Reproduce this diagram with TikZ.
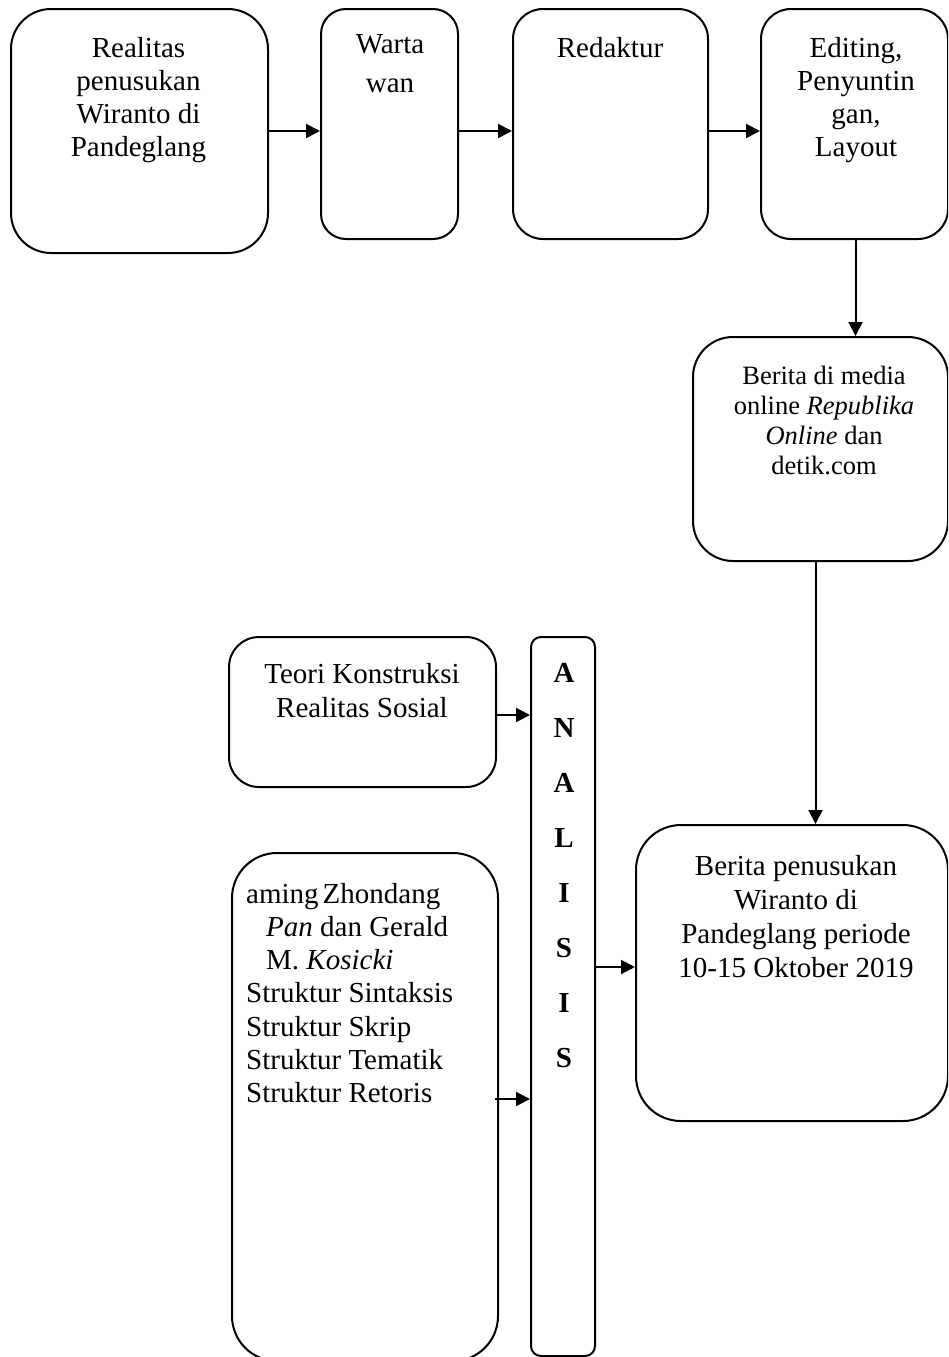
\documentclass[tikz,border=0pt]{standalone}
\usepackage{fontspec}
\setmainfont{Liberation Serif}
\usetikzlibrary{arrows.meta}
\tikzset{
  box/.style={draw, line width=2pt, inner sep=0pt, anchor=north west},
  txt/.style={inner sep=0pt, anchor=base},
  arr/.style={line width=2pt, -{Triangle[length=14pt,width=14pt]}},
  ln/.style={line width=2pt}
}
\setlength{\tabcolsep}{0pt}
\begin{document}
\begin{tikzpicture}[x=1pt,y=-1pt]
\useasboundingbox (0,0) rectangle (948,1357);
\clip (0,0) rectangle (948,1357);
% boxes
\node[box, rounded corners=40pt, minimum width=257pt, minimum height=244pt] (b1) at (10,8) {};
\node[box, rounded corners=25pt, minimum width=137pt, minimum height=230pt] (b2) at (320,8) {};
\node[box, rounded corners=30pt, minimum width=195pt, minimum height=230pt] (b3) at (512,8) {};
\node[box, rounded corners=30pt, minimum width=187pt, minimum height=230pt] (b4) at (760,8) {};
\node[box, rounded corners=40pt, minimum width=255pt, minimum height=224pt] (b5) at (692,336) {};
\node[box, rounded corners=30pt, minimum width=267pt, minimum height=150pt] (b6) at (228,636) {};
\node[box, rounded corners=10pt, minimum width=64pt, minimum height=719pt] (ana) at (530,636) {};
\node[box, rounded corners=45pt, minimum width=312pt, minimum height=296pt] (b7) at (635,824) {};
\node[box, rounded corners=45pt, minimum width=266pt, minimum height=508pt] (b8) at (231,852) {};
% texts
\node[txt, font=\fontsize{29}{33.3}\selectfont] (t1) at (138.5,57)
  {\begin{tabular}[t]{c}Realitas\\penusukan\\Wiranto di\\Pandeglang\end{tabular}};
\node[txt, font=\fontsize{29}{39}\selectfont] (t2) at (390,53)
  {\begin{tabular}[t]{c}Warta\\wan\end{tabular}};
\node[txt, font=\fontsize{29}{33.3}\selectfont] (t3) at (610,57) {Redaktur};
\node[txt, font=\fontsize{29}{33}\selectfont] (t4) at (856,57)
  {\begin{tabular}[t]{c}Editing,\\Penyuntin\\gan,\\Layout\end{tabular}};
\node[txt, font=\fontsize{26.5}{30.3}\selectfont] (t5) at (824,384)
  {\begin{tabular}[t]{c}Berita di media\\online \textit{Republika}\\\textit{Online} dan\\detik.com\end{tabular}};
\node[txt, font=\fontsize{29}{34}\selectfont] (t6) at (362,683)
  {\begin{tabular}[t]{c}Teori Konstruksi\\Realitas Sosial\end{tabular}};
\node[txt, font=\fontsize{29}{55}\selectfont\bfseries] (t7) at (564,682)
  {\begin{tabular}[t]{c}A\\N\\A\\L\\I\\S\\I\\S\end{tabular}};
\node[txt, font=\fontsize{29}{34.3}\selectfont] (t8) at (796,875)
  {\begin{tabular}[t]{c}Berita penusukan\\Wiranto di\\Pandeglang periode\\10-15 Oktober 2019\end{tabular}};
\node[txt, anchor=base west, font=\fontsize{29}{33.3}\selectfont] (t9) at (246,903)
  {\begin{tabular}[t]{l}aming\hspace{4pt}Zhondang\\\hspace{20pt}\textit{Pan} dan Gerald\\\hspace{20pt}M. \textit{Kosicki}\\Struktur Sintaksis\\Struktur Skrip\\Struktur Tematik\\Struktur Retoris\end{tabular}};
% connectors
\draw[arr] (b1.east) -- (b1.east -| b2.west);
\draw[arr] (b2.east |- b1.east) -- (b3.west |- b1.east);
\draw[arr] (b3.east |- b1.east) -- (b4.west |- b1.east);
\draw[arr] ([xshift=1pt]b4.south) -- ([xshift=1pt]b4.south |- b5.north);
\coordinate (c0) at ([xshift=-5pt]b5.south);
\draw[arr] (c0) -- (c0 |- b7.north);
\coordinate (c1) at ([yshift=-3pt]b6.east);
\draw[arr] (c1) -- (c1 -| ana.west);
\coordinate (c2) at ([xshift=-4pt,yshift=8pt]b8.east);
\draw[arr] (c2) -- (c2 -| ana.west);
\coordinate (c3) at ([yshift=6pt]b7.west);
\draw[arr] (c3 -| ana.east) -- (c3);
\end{tikzpicture}
\end{document}
